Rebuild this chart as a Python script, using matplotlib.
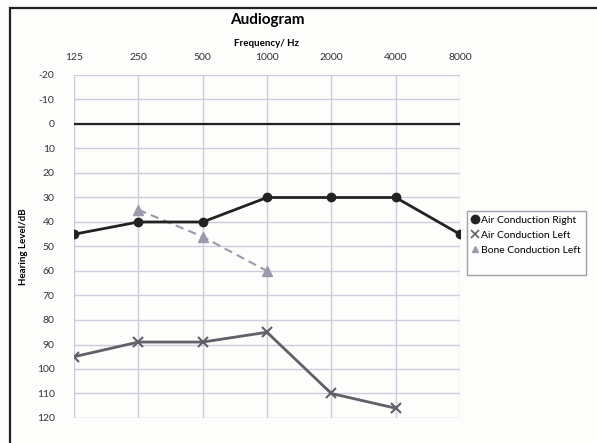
import numpy as np
import matplotlib.pyplot as plt
from matplotlib.lines import Line2D
from matplotlib.patches import Rectangle

plt.rcParams['font.family'] = ['Lato', 'DejaVu Sans']
plt.rcParams['axes.unicode_minus'] = False

# Data
freqs = ['125', '250', '500', '1000', '2000', '4000', '8000']
air_right = [45, 40, 40, 30, 30, 30, 45]
air_left = [95, 89, 89, 85, 110, 116]
bone_left_freqs = ['250', '500', '1000']
bone_left = [35, 46, 60]
y_ticks = list(range(-20, 121, 10))

pos = {f: i for i, f in enumerate(freqs)}

fig = plt.figure(figsize=(5.97, 4.43), dpi=100)
fig.patch.set_facecolor('#fdfdfc')
ax = fig.add_axes([74 / 597, 1 - 418 / 443, (460 - 74) / 597, (418 - 75) / 443])
ax.set_facecolor('#fdfdfc')

# outer chart frame
fig.add_artist(Rectangle((10 / 597, -0.2), 1.2, 1 - 8 / 443 + 0.2, transform=fig.transFigure,
                         fill=False, edgecolor='#222222', linewidth=1.6))

grid_c = '#cccdda'
for y in y_ticks:
    ax.axhline(y, color=grid_c, linewidth=1.0, zorder=0)
for i in range(len(freqs)):
    ax.axvline(i, color=grid_c, linewidth=1.0, zorder=0)
ax.axhline(0, color='#222222', linewidth=1.6, zorder=1)

ax.plot([pos[f] for f in freqs[:len(air_right)]], air_right, color='#222222', linewidth=2.0,
        marker='o', markersize=6, zorder=4)
ax.plot([pos[f] for f in freqs[:len(air_left)]], air_left, color='#5f6068', linewidth=2.0,
        marker='x', markersize=7, markeredgewidth=1.5, zorder=3)
ax.plot([pos[f] for f in bone_left_freqs], bone_left, color='#9a9aae', linewidth=1.5,
        linestyle=(0, (4, 2.5)), marker='^', markersize=7, zorder=3)

ax.set_xlim(0, len(freqs) - 1)
ax.set_ylim(120, -20)
ax.set_xticks(range(len(freqs)))
ax.set_xticklabels(freqs)
ax.set_yticks(y_ticks)
ax.xaxis.tick_top()
ax.tick_params(axis='both', length=0, labelsize=7.5, colors='#333333')
ax.tick_params(axis='x', pad=9)
ax.tick_params(axis='y', pad=14)
for s in ax.spines.values():
    s.set_visible(False)

ax.set_ylabel('Hearing Level/dB', fontsize=7, fontweight='bold', labelpad=6)
fig.text(267 / 597, 1 - 44 / 443, 'Frequency/ Hz', ha='center', va='center',
         fontsize=7, fontweight='bold')
fig.text(267 / 597, 1 - 20 / 443, 'Audiogram', ha='center', va='center',
         fontsize=11, fontweight='bold')

handles = [
    Line2D([], [], color='#222222', marker='o', linestyle='none', markersize=6),
    Line2D([], [], color='#5f6068', marker='x', linestyle='none', markersize=6, markeredgewidth=1.2),
    Line2D([], [], color='#9a9aae', marker='^', linestyle='none', markersize=4),
    Line2D([], [], linestyle='none'),
]
labels = ['Air Conduction Right', 'Air Conduction Left', 'Bone Conduction Left', ' ']
leg = fig.legend(handles, labels, loc='upper left', bbox_to_anchor=(467 / 597, 1 - 211 / 443),
                 fontsize=7.5, frameon=True, fancybox=False, handlelength=0.6, handletextpad=0.3,
                 borderpad=0.45, labelspacing=0.55, borderaxespad=0)
leg.get_frame().set_edgecolor('#8a8a9a')
leg.get_frame().set_linewidth(1.0)

fig.savefig('out.png', dpi=100, facecolor=fig.get_facecolor())
